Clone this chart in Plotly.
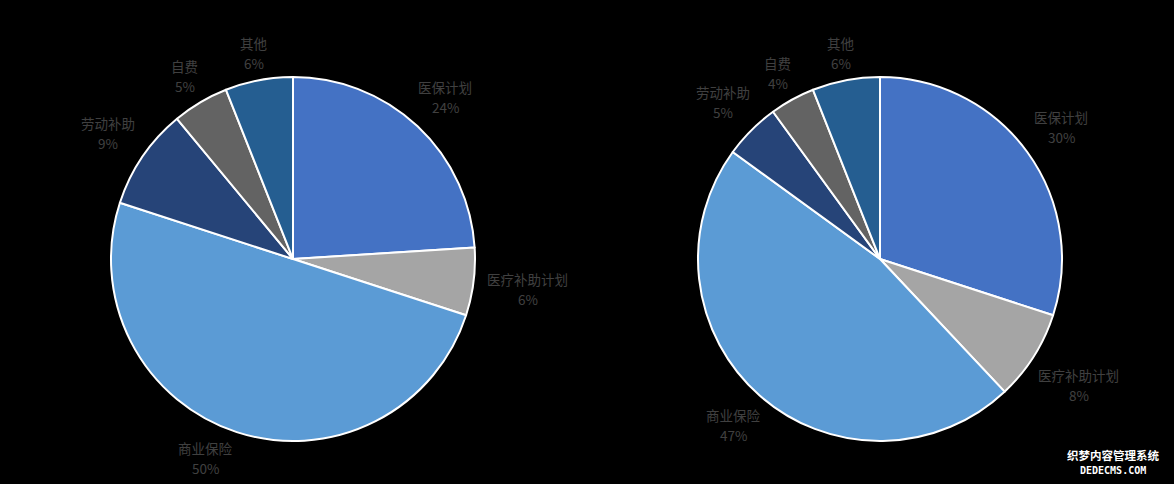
import math
import plotly.graph_objects as go

# ---- data ----
categories = ["医保计划", "医疗补助计划", "商业保险", "劳动补助", "自费", "其他"]
values_left = [24, 6, 50, 9, 5, 6]
values_right = [30, 8, 47, 5, 4, 6]
colors = ["#4472C4", "#A5A5A5", "#5B9BD5", "#264478", "#636363", "#255E91"]

# ---- layout constants (pixels) ----
W, H = 1174, 484
R = 182
centers = [(293, 259), (880, 259)]
FONT = "Noto Sans CJK SC, Noto Sans, sans-serif"
FS = 13.5
TXT = "#404040"
GAP = 13
BH = 12          # half-height used for label box offset
BOTTOM = 458     # lowest allowed label centre (pixels)
TOP = 52         # highest allowed label centre (pixels)


def label_pos(cx, cy, ang, a):
    ux, uy = math.sin(ang), -math.cos(ang)
    d = R + GAP + a * abs(ux) + BH * abs(uy)
    return cx + d * ux, cy + d * uy


fig = go.Figure()
annotations = []

for (cx, cy), vals in zip(centers, [values_left, values_right]):
    fig.add_trace(go.Pie(
        labels=categories, values=vals, sort=False, direction="clockwise",
        rotation=0, textinfo="none", hoverinfo="label+percent",
        marker=dict(colors=colors, line=dict(color="#FFFFFF", width=2)),
        domain=dict(x=[(cx - R) / W, (cx + R) / W],
                    y=[1 - (cy + R) / H, 1 - (cy - R) / H]),
        showlegend=False,
    ))
    total = sum(vals)
    cum = 0
    for name, v in zip(categories, vals):
        mid = (cum + v / 2) / total * 2 * math.pi
        cum += v
        pct = f"{round(v / total * 100)}%"
        a = max(len(name) * FS, len(pct) * FS * 0.6) / 2
        lx, ly = label_pos(cx, cy, mid, a)
        # best-fit: slide the label around the pie until it fits vertically
        step = 0.01
        sgn = 1 if math.sin(mid) < 0 else -1
        n = 0
        while (ly > BOTTOM or ly < TOP) and n < 200:
            mid += sgn * step if ly > BOTTOM else -sgn * step
            lx, ly = label_pos(cx, cy, mid, a)
            n += 1
        for txt, off in ((name, -10), (pct, 10)):
            annotations.append(dict(
                x=lx / W, y=1 - (ly + off) / H, xref="paper", yref="paper",
                text=txt, showarrow=False, xanchor="center", yanchor="middle",
                font=dict(family=FONT, size=FS, color=TXT)))

# watermark
annotations.append(dict(x=1113 / W, y=1 - 455 / H, xref="paper", yref="paper",
                        text="<b>织梦内容管理系统</b>", showarrow=False,
                        xanchor="center", yanchor="middle",
                        font=dict(family=FONT, size=11.5, color="#FFFFFF")))
annotations.append(dict(x=1113 / W, y=1 - 470 / H, xref="paper", yref="paper",
                        text="<b>DEDECMS.COM</b>", showarrow=False,
                        xanchor="center", yanchor="middle",
                        font=dict(family="DejaVu Sans Mono", size=10, color="#FFFFFF")))

fig.update_layout(
    width=W, height=H,
    paper_bgcolor="#000000", plot_bgcolor="#000000",
    margin=dict(l=0, r=0, t=0, b=0),
    annotations=annotations,
    font=dict(family=FONT),
)

fig.write_html(
    "out.html",
    config={"displayModeBar": False},
    post_script="document.body.style.margin='0';document.body.style.background='#000';",
)
